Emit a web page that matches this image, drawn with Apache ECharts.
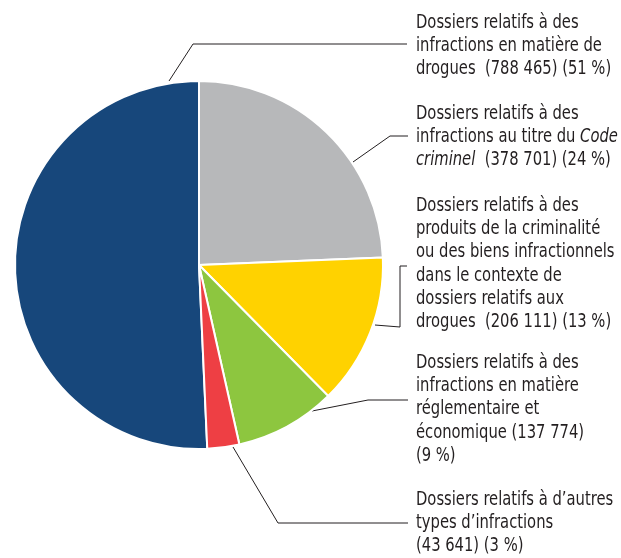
<!DOCTYPE html>
<html>
	<head>
		<meta charset="utf-8" />
		<title>Dossiers</title>
		<style>
			html, body { margin: 0; padding: 0; background: #fff; }
			#main { width: 621px; height: 558px; }
		</style>
	</head>
	<body>
		<div id="main"></div>
		<script src="https://cdn.jsdelivr.net/npm/echarts@6/dist/echarts.min.js"></script>
		<script>
			// categories (label text before the numbers)
			var categories = [
				'Dossiers relatifs à des\ninfractions en matière de\ndrogues',
				'Dossiers relatifs à des\ninfractions au titre du {i|Code}\n{i|criminel}',
				'Dossiers relatifs à des\nproduits de la criminalité\nou des biens infractionnels\ndans le contexte de\ndossiers relatifs aux\ndrogues',
				'Dossiers relatifs à des\ninfractions en matière\nréglementaire et\néconomique',
				'Dossiers relatifs à d’autres\ntypes d’infractions'
			];
			// number of files
			var values = [788465, 378701, 206111, 137774, 43641];
			// how value and percent follow the name
			var tails = ['  ({v}) ({p} %)', '  ({v}) ({p} %)', '  ({v}) ({p} %)', ' ({v})\n({p} %)', '\n({v}) ({p} %)'];
			var colors = ['#17477b', '#b7b8ba', '#ffd200', '#8dc63f', '#ee3f44'];

			// label layout
			var labelX = 416;
			var labelTops = [11, 102, 194, 351, 488];
			var leaderLines = [
				[[169, 81], [193, 44], [407, 44]],
				[[353, 162], [390, 136], [408, 136]],
				[[375, 325], [400, 327], [400, 266], [407, 266]],
				[[312, 411], [368, 400], [408, 400]],
				[[233, 447], [278, 523], [408, 523]]
			];

			function fmt(n){
				return String(n).replace(/\B(?=(\d{3})+(?!\d))/g, ' ');
			}

			var total = values.reduce(function(a, b){ return a + b; }, 0);
			var font = "'DejaVu Sans Condensed', 'DejaVu Sans', sans-serif";
			var txtColor = '#231f20';

			var graphics = [];
			categories.forEach(function(name, i){
				var pct = Math.round(values[i] / total * 100);
				graphics.push({
					type: 'text',
					x: labelX,
					y: labelTops[i],
					scaleX: 0.82,
					silent: true,
					style: {
						text: name + tails[i].replace('{v}', fmt(values[i])).replace('{p}', pct),
						fill: txtColor,
						fontFamily: font,
						fontSize: 20,
						lineHeight: 23.3,
						verticalAlign: 'top',
						align: 'left',
						rich: {
							i: {
								fontStyle: 'italic',
								fontFamily: font,
								fontSize: 20,
								lineHeight: 23.3,
								fill: txtColor
							}
						}
					}
				});
				graphics.push({
					type: 'polyline',
					silent: true,
					shape: { points: leaderLines[i] },
					style: { stroke: txtColor, lineWidth: 1, fill: null }
				});
			});

			var chart = echarts.init(document.getElementById('main'));
			var option = {
				animation: false,
				color: colors,
				graphic: graphics,
				series: [{
					type: 'pie',
					center: [199, 265],
					radius: 184,
					startAngle: 90 + 360 * values[0] / total,
					clockwise: true,
					emphasis: { disabled: true },
					itemStyle: {
						borderColor: '#fff',
						borderWidth: 2
					},
					label: { show: false },
					labelLine: { show: false },
					data: categories.map(function(name, i){
						return { name: name.replace(/\{i\|([^}]*)\}/g, '$1'), value: values[i] };
					})
				}]
			};
			chart.setOption(option);
		</script>
	</body>
</html>
